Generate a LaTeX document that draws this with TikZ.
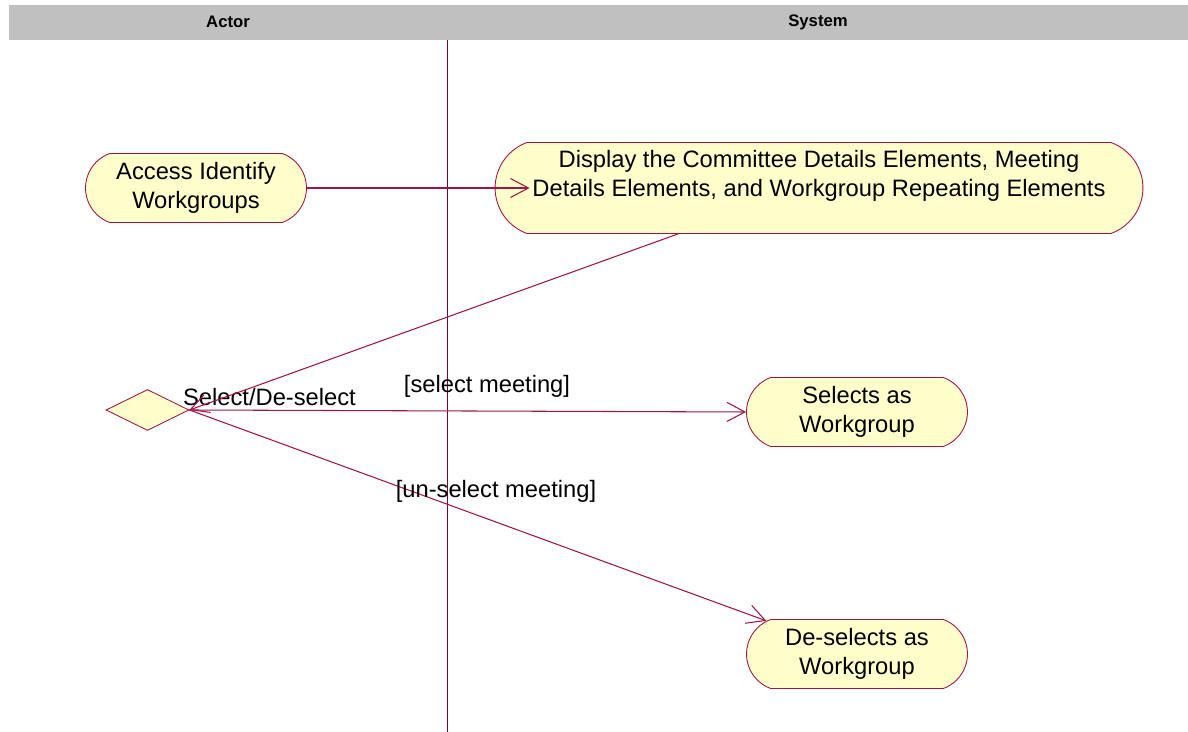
\documentclass[tikz,border=0pt]{standalone}
\usepackage{fontspec}
\setmainfont{Liberation Sans}
\usetikzlibrary{arrows.meta,shapes.geometric,shapes.misc}
\definecolor{umlred}{RGB}{160,20,70}
\definecolor{lanered}{RGB}{120,0,50}
\definecolor{actfill}{RGB}{255,255,204}
\definecolor{headgray}{RGB}{192,192,192}
\begin{document}
\begin{tikzpicture}[x=0.02cm, y=-0.02cm,
    activity/.style={rounded rectangle, rounded rectangle arc length=140, draw=umlred, fill=actfill,
        line width=0.5pt, align=center, inner sep=0pt, font=\fontsize{13.5}{16.4}\selectfont},
    decision/.style={diamond, draw=umlred, fill=actfill, line width=0.5pt, inner sep=0pt,
        minimum width=1.66cm, minimum height=0.82cm},
    flow/.style={draw=umlred, line width=0.6pt, -{Straight Barb[length=0.36cm, width=0.38cm]}},
    guard/.style={font=\fontsize{13.5}{16.4}\selectfont, inner sep=0pt},
    lanehead/.style={font=\bfseries\fontsize{9.5}{11}\selectfont}]
        \useasboundingbox (0,0) rectangle (1188,732);
        % swimlane header
        \fill[headgray] (9,5) rectangle (1188,40);
        \node[lanehead] (actor) at (228, 22) {Actor};
        \node[lanehead] (system) at (818, 22) {System};
        \draw[lanered, line width=0.45pt] (447,40) -- (447,732);
        % activities
        \node[activity, minimum width=4.42cm, minimum height=1.38cm] (acc) at (196, 188) {Access Identify\\ Workgroups};
        \node[activity, minimum width=12.96cm, minimum height=1.82cm] (disp) at (819, 188)
            {Display the Committee Details Elements, Meeting\\Details Elements, and Workgroup Repeating Elements\\ \mbox{}};
        \node[decision] (dec) at (147.5, 410) {};
        \node[guard] (declab) at (269.5, 397) {Select/De-select};
        \node[activity, minimum width=4.42cm, minimum height=1.38cm] (sel) at (857, 412) {Selects as\\ Workgroup};
        \node[activity, minimum width=4.42cm, minimum height=1.38cm] (desel) at (857, 654) {De-selects as\\ Workgroup};
        % transitions
        \draw[flow] (acc.east) -- ([xshift=0.7cm]disp.west);
        \draw[flow] ([xshift=-2.82cm]disp.south) -- (dec.east);
        \draw[flow] (dec.east) -- (sel.west);
        \draw[flow] (dec.east) -- (desel);
        \node[guard] (selg) at (487, 386) {[select meeting]};
        \node[guard] (deselg) at (496, 491) {[un-select meeting]};
\end{tikzpicture}
\end{document}
